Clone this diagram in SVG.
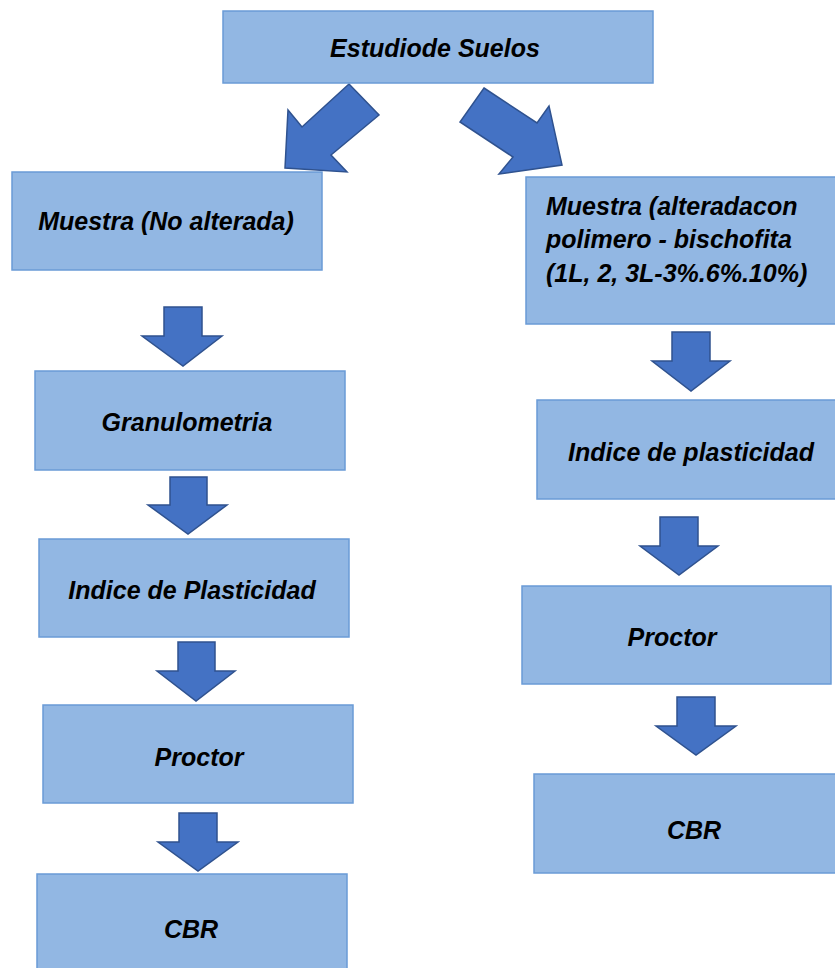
<svg xmlns="http://www.w3.org/2000/svg" width="835" height="968" viewBox="0 0 835 968">
<style>
.box{fill:#92B7E3;stroke:#6A9BD6;stroke-width:1.5}
.arr{fill:#4472C4;stroke:#2F528F;stroke-width:1.5;stroke-linejoin:miter}
text{font-family:"Liberation Sans",Arial,sans-serif;font-weight:bold;font-style:italic;font-size:25px;fill:#000}
.c{text-anchor:middle}
</style>
<rect width="835" height="968" fill="#fff"/>
<g id="connectors">
<polygon class="arr" points="349,84 379,115 331,155 347,172 285,168 288,110 302,127"/>
<polygon class="arr" points="484,88 537,123 549,106 562,165 499,174 513,157 460,122"/>
<polygon class="arr" points="164,307 202,307 202,336 222,336 183,366 142,336 164,336"/>
<polygon class="arr" points="170,477 207,477 207,505 227,505 188,534 148,505 170,505"/>
<polygon class="arr" points="178,642 215,642 215,671 235,671 196,701 157,671 178,671"/>
<polygon class="arr" points="179,813 217,813 217,842 238,842 198,871 158,842 179,842"/>
<polygon class="arr" points="672,332 710,332 710,361 730,361 691,391 652,361 672,361"/>
<polygon class="arr" points="660,517 698,517 698,546 718,546 679,575 640,546 660,546"/>
<polygon class="arr" points="677,697 715,697 715,726 736,726 696,755 656,726 677,726"/>
</g>
<g id="n-estudio"><rect class="box" x="223" y="11" width="430" height="72"/><text class="c" x="435" y="57">Estudiode Suelos</text></g>
<g id="n-muestra-na"><rect class="box" x="12" y="172" width="310" height="98"/><text class="c" x="166" y="230">Muestra (No alterada)</text></g>
<g id="n-granulometria"><rect class="box" x="35" y="371" width="310" height="99"/><text class="c" x="187" y="431">Granulometria</text></g>
<g id="n-ip-left"><rect class="box" x="39" y="539" width="310" height="98"/><text class="c" x="192" y="599">Indice de Plasticidad</text></g>
<g id="n-proctor-left"><rect class="box" x="43" y="705" width="310" height="98"/><text class="c" x="199" y="766">Proctor</text></g>
<g id="n-cbr-left"><rect class="box" x="37" y="874" width="310" height="100"/><text class="c" x="191" y="938">CBR</text></g>
<g id="n-muestra-alt"><rect class="box" x="526" y="177" width="312" height="147"/><text x="546" y="215">Muestra  (alteradacon</text><text x="546" y="248">polimero - bischofita</text><text x="546" y="282">(1L, 2, 3L-3%.6%.10%)</text></g>
<g id="n-ip-right"><rect class="box" x="537" y="400" width="301" height="99"/><text class="c" x="691" y="461">Indice de plasticidad</text></g>
<g id="n-proctor-right"><rect class="box" x="522" y="586" width="309" height="98"/><text class="c" x="672" y="646">Proctor</text></g>
<g id="n-cbr-right"><rect class="box" x="534" y="774" width="304" height="99"/><text class="c" x="694" y="839">CBR</text></g>
</svg>
